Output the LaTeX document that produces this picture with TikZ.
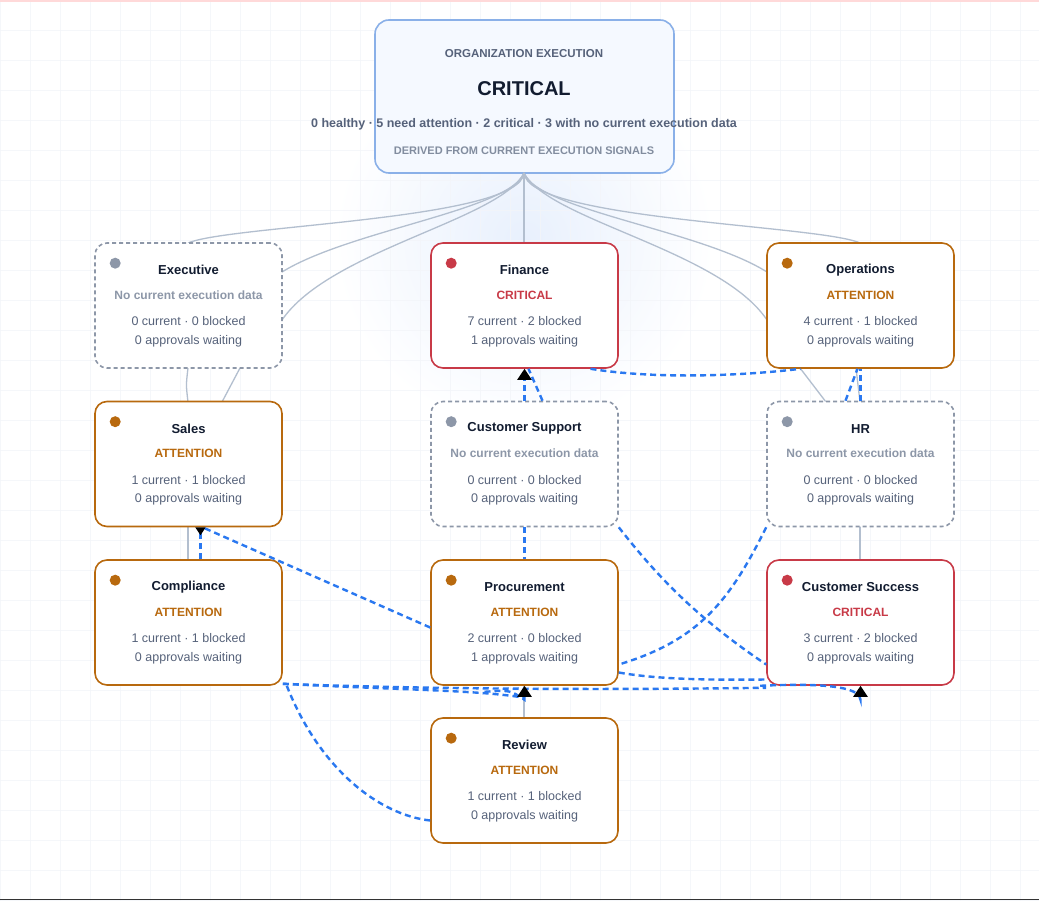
\documentclass[tikz,border=0pt]{standalone}
\usepackage{fontspec}
\setmainfont{Liberation Sans}
\usetikzlibrary{arrows.meta}
\definecolor{org}{HTML}{B8690E}
\definecolor{crit}{HTML}{C83A47}
\definecolor{gry}{HTML}{8D97A8}
\definecolor{blu}{HTML}{2A78F0}
\definecolor{navy}{HTML}{121C30}
\definecolor{body}{HTML}{56627A}
\definecolor{tree}{HTML}{B3BFCF}
\definecolor{topb}{HTML}{8AB0E8}
\definecolor{topf}{HTML}{F5F9FF}
\definecolor{grid}{HTML}{F3F5F9}
\definecolor{glow}{HTML}{E8F0FD}
\tikzset{
  box/.style={draw, rounded corners=12pt, minimum width=187pt, minimum height=125pt, fill=white, line width=1.6pt, inner sep=0},
  attn/.style={box, draw=org},
  critb/.style={box, draw=crit},
  none/.style={box, draw=gry, dashed, dash pattern=on 4pt off 3pt},
  ttl/.style={font=\bfseries\fontsize{13}{15}\selectfont, text=navy},
  st/.style={font=\bfseries\fontsize{12}{14}\selectfont},
  ln/.style={font=\fontsize{12.5}{14}\selectfont, text=body},
  tr/.style={draw=tree, line width=1.3pt},
  dep/.style={draw=blu, line width=2.4pt, dash pattern=on 6pt off 4pt},
  arr/.style={-{Triangle[length=11pt,width=14pt,black]}},
  rarr/.style={-{Triangle[reversed,length=8pt,width=10pt,black]}},
}
\newcommand{\dept}[9]{%
  \node[#4] (#1) at (#2,#3) {};
  \fill[#7] ([xshift=21pt,yshift=-21pt]#1.north west) circle (5.5pt);
  \node[ttl] at ([yshift=-28pt]#1.north) {#5};
  \node[st, text=#7] at ([yshift=-53pt]#1.north) {#6};
  \node[ln] at ([yshift=-79pt]#1.north) {#8};
  \node[ln] at ([yshift=-99pt]#1.north) {#9};
}
\begin{document}
\begin{tikzpicture}[x=1pt,y=-1pt]
\useasboundingbox (0,0) rectangle (1039,901);
\fill[white] (0,0) rectangle (1039,901);
\begin{scope}
\clip (0,3) rectangle (1039,898);
\shade[inner color=glow, outer color=white] (524,240) circle (190pt);
\end{scope}
\foreach \i in {0,30,...,1039} \draw[grid,line width=0.5pt,opacity=0.8] (\i,0) -- (\i,901);
\foreach \i in {0,30,...,901} \draw[grid,line width=0.5pt,opacity=0.8] (0,\i) -- (1039,\i);
\draw[red!15,line width=1.5pt] (0,1) -- (1039,1);
\draw[black!80,line width=1.5pt] (0,899.5) -- (1039,899.5);

% top node
\node[draw=topb, fill=topf, rounded corners=14pt, line width=1.6pt, minimum width=299pt, minimum height=153pt] (top) at (524.5,96.5) {};
\node[font=\bfseries\fontsize{11.5}{13}\selectfont, text=body] at (524,54) {ORGANIZATION EXECUTION};
\node[font=\bfseries\fontsize{20}{22}\selectfont, text=navy] at (524,89) {CRITICAL};
\node[font=\bfseries\fontsize{12.5}{14}\selectfont, text=body] at (524,124) {0 healthy · 5 need attention · 2 critical · 3 with no current execution data};
\node[font=\bfseries\fontsize{11}{13}\selectfont, text=gry!80!body] at (524,151) {DERIVED FROM CURRENT EXECUTION SIGNALS};

% tree lines
\coordinate (root) at (524,173);
\path[tr] (root) .. controls (520,220) and (230,225) .. (188,243);
\path[tr] (root) .. controls (510,210) and (350,230) .. (282,272);
\path[tr] (root) .. controls (500,220) and (330,250) .. (282,320);
\path[tr] (root) -- (524,243);
\path[tr] (root) .. controls (528,220) and (820,225) .. (860,243);
\path[tr] (root) .. controls (538,210) and (700,230) .. (767,272);
\path[tr] (root) .. controls (548,220) and (720,250) .. (767,320);
\path[tr] (188,368) .. controls (186,385) .. (188,402);
\path[tr] (240,368) -- (222,402);
\path[tr] (188,526) -- (188,560);
\path[tr] (800,368) -- (826,402);
\path[tr] (856,368) -- (860,402);
\path[tr] (860,526) -- (860,560);
\path[tr] (524,685) -- (524,718);

% departments
\dept{exe}{188.5}{305.5}{none}{Executive}{No current execution data}{gry}{0 current · 0 blocked}{0 approvals waiting}
\dept{fin}{524.5}{305.5}{critb}{Finance}{CRITICAL}{crit}{7 current · 2 blocked}{1 approvals waiting}
\dept{ops}{860.5}{305.5}{attn}{Operations}{ATTENTION}{org}{4 current · 1 blocked}{0 approvals waiting}
\dept{sal}{188.5}{464}{attn}{Sales}{ATTENTION}{org}{1 current · 1 blocked}{0 approvals waiting}
\dept{cs}{524.5}{464}{none}{Customer Support}{No current execution data}{gry}{0 current · 0 blocked}{0 approvals waiting}
\dept{hr}{860.5}{464}{none}{HR}{No current execution data}{gry}{0 current · 0 blocked}{0 approvals waiting}
\dept{com}{188.5}{622.5}{attn}{Compliance}{ATTENTION}{org}{1 current · 1 blocked}{0 approvals waiting}
\dept{pro}{524.5}{622.5}{attn}{Procurement}{ATTENTION}{org}{2 current · 0 blocked}{1 approvals waiting}
\dept{cus}{860.5}{622.5}{critb}{Customer Success}{CRITICAL}{crit}{3 current · 2 blocked}{0 approvals waiting}
\dept{rev}{524.5}{780.5}{attn}{Review}{ATTENTION}{org}{1 current · 1 blocked}{0 approvals waiting}

% dependency edges
\path[dep,arr] (cs.north) -- (fin.south);
\path[dep] ([xshift=18pt]cs.north) -- ([xshift=4pt]fin.south);
\path[dep] ([xshift=66pt]fin.south) .. controls (660,380) and (750,375) .. ([xshift=-60pt]ops.south);
\path[dep] ([xshift=-15pt]hr.north) -- ([xshift=-3pt]ops.south);
\path[dep] (hr.north) -- (ops.south);
\path[dep,rarr] ([xshift=12pt]com.north) -- ([xshift=12pt]sal.south);
\path[dep] ([yshift=-5pt]pro.west) -- ([xshift=14pt]sal.south);
\path[dep] (cs.south) -- (pro.north);
\path[dep] (cs.south east) .. controls (660,580) and (700,620) .. ([yshift=-42pt]cus.west);
\path[dep] (hr.south west) .. controls (730,600) and (700,640) .. ([yshift=-42pt]pro.east);
\path[dep] ([yshift=-50pt]pro.east) .. controls (660,680) and (720,680) .. ([yshift=-57pt]cus.west);
\path[dep] ([yshift=2pt]com.south east) .. controls (500,692) and (740,688) .. ([yshift=-2pt]cus.south west);
\path[dep,arr] ([xshift=-6pt]cus.south west) .. controls (840,682) and (860,690) .. ([yshift=-14pt]cus.south) -- (cus.south);
\path[dep] ([yshift=2pt]com.south east) .. controls (400,690) and (480,690) .. ([yshift=-12pt]pro.south);
\path[dep,arr] ([xshift=-40pt,yshift=-6pt]pro.south) .. controls (510,690) .. ([yshift=-14pt]pro.south) -- (pro.south);
\path[dep] ([xshift=4pt]com.south east) .. controls (320,770) and (380,815) .. ([yshift=-40pt]rev.west);
\end{tikzpicture}
\end{document}
